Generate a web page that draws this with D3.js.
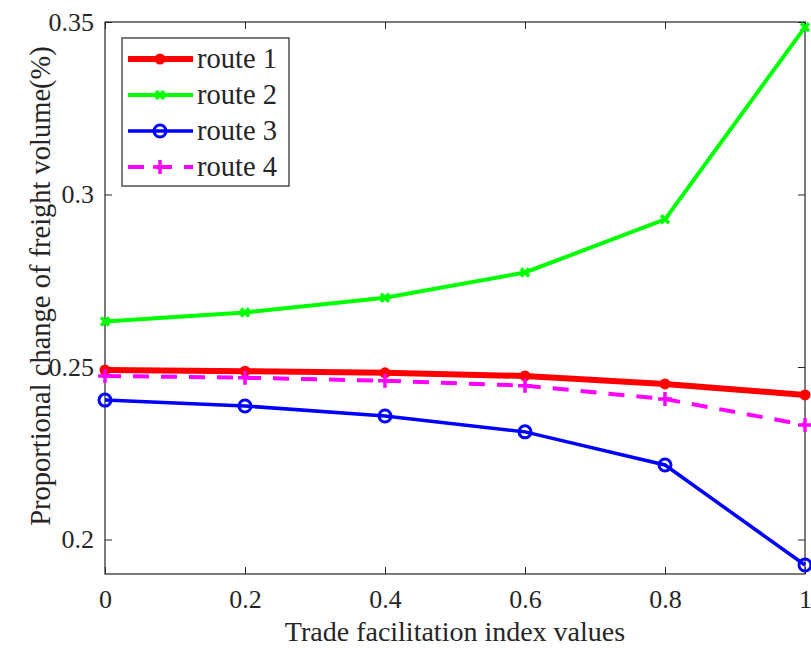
<!DOCTYPE html>
<html>
<head>
<meta charset="utf-8">
<script src="https://cdn.jsdelivr.net/npm/d3@7"></script>
<style>
  body { margin: 0; background: #fff; }
  text { font-family: "Liberation Serif", "Times New Roman", serif; fill: #262626; }
</style>
</head>
<body>
<div id="chart"></div>
<script>
// data
const trade_index = [0, 0.2, 0.4, 0.6, 0.8, 1];
const route_1 = [0.2491, 0.2488, 0.2483, 0.2474, 0.2451, 0.2419];
const route_2 = [0.2632, 0.2658, 0.2701, 0.2774, 0.2928, 0.3485];
const route_3 = [0.2404, 0.2387, 0.2358, 0.2312, 0.2216, 0.1926];
const route_4 = [0.2474, 0.2469, 0.2460, 0.2446, 0.2407, 0.2332];
const route_names = ["route 1", "route 2", "route 3", "route 4"];
const x_ticks = [0, 0.2, 0.4, 0.6, 0.8, 1];
const y_ticks = [0.2, 0.25, 0.3, 0.35];

const width = 811;
const height = 648;
const margin = { top: 22, right: 6, bottom: 74, left: 105 };
const plot_w = width - margin.left - margin.right;
const plot_h = height - margin.top - margin.bottom;
const axis_color = "#262626";

const svg = d3.select("#chart")
    .append("svg")
    .attr("width", width)
    .attr("height", height);

const g = svg.append("g")
    .attr("transform", "translate(" + margin.left + "," + margin.top + ")");

const x = d3.scaleLinear().domain([0, 1]).range([0, plot_w]);
const y = d3.scaleLinear().domain([0.19, 0.35]).range([plot_h, 0]);

// axes with inward ticks (box on, like matlab)
const fmt = d => d3.format("")(+d.toFixed(2));

const xAxis = g.append("g")
    .attr("transform", "translate(0," + plot_h + ")")
    .call(d3.axisBottom(x).tickValues(x_ticks).tickFormat(fmt).tickSizeInner(-7).tickSizeOuter(0).tickPadding(16));
const xTop = g.append("g")
    .call(d3.axisTop(x).tickValues(x_ticks).tickFormat("").tickSizeInner(-7).tickSizeOuter(0));
const yAxis = g.append("g")
    .call(d3.axisLeft(y).tickValues(y_ticks).tickFormat(fmt).tickSizeInner(-7).tickSizeOuter(0).tickPadding(11));
const yRight = g.append("g")
    .attr("transform", "translate(" + plot_w + ",0)")
    .call(d3.axisRight(y).tickValues(y_ticks).tickFormat("").tickSizeInner(-7).tickSizeOuter(0));

[xAxis, xTop, yAxis, yRight].forEach(a => {
    a.select(".domain").remove();
    a.selectAll(".tick line").attr("stroke", axis_color).attr("stroke-width", 1);
    a.selectAll(".tick text")
        .attr("font-size", "26px")
        .attr("fill", axis_color);
});

g.append("rect")
    .attr("x", 0).attr("y", 0)
    .attr("width", plot_w).attr("height", plot_h)
    .attr("fill", "none")
    .attr("stroke", axis_color)
    .attr("stroke-width", 1.2);

// axis titles
svg.append("text")
    .attr("x", margin.left + plot_w / 2)
    .attr("y", 641)
    .attr("text-anchor", "middle")
    .attr("font-size", "28px")
    .text("Trade facilitation index values");

svg.append("text")
    .attr("transform", "translate(50," + (margin.top + 264) + ") rotate(-90)")
    .attr("text-anchor", "middle")
    .attr("font-size", "28.5px")
    .text("Proportional change of freight volume(%)");

// series
const series = [
    { name: route_names[0], values: route_1, color: "#ff0000", width: 6, dash: null, marker: "dot" },
    { name: route_names[1], values: route_2, color: "#00ff00", width: 4, dash: null, marker: "x" },
    { name: route_names[2], values: route_3, color: "#0000ff", width: 3.5, dash: null, marker: "circle" },
    { name: route_names[3], values: route_4, color: "#ff00ff", width: 4, dash: "16,12", marker: "plus" }
];

const line = d3.line()
    .x((d, i) => x(trade_index[i]))
    .y(d => y(d));

function drawMarker(sel, type, color, cx, cy) {
    if (type === "dot") {
        sel.append("circle").attr("cx", cx).attr("cy", cy).attr("r", 5.5).attr("fill", color);
    } else if (type === "circle") {
        sel.append("circle").attr("cx", cx).attr("cy", cy).attr("r", 6)
            .attr("fill", "none").attr("stroke", color).attr("stroke-width", 3);
    } else if (type === "x") {
        const s = 4;
        sel.append("path")
            .attr("d", `M${cx - s},${cy - s}L${cx + s},${cy + s}M${cx - s},${cy + s}L${cx + s},${cy - s}`)
            .attr("stroke", color).attr("stroke-width", 3.5).attr("fill", "none");
    } else if (type === "plus") {
        const s = 7;
        sel.append("path")
            .attr("d", `M${cx - s},${cy}L${cx + s},${cy}M${cx},${cy - s}L${cx},${cy + s}`)
            .attr("stroke", color).attr("stroke-width", 3.5).attr("fill", "none");
    }
}

series.forEach(s => {
    g.append("path")
        .datum(s.values)
        .attr("fill", "none")
        .attr("stroke", s.color)
        .attr("stroke-width", s.width)
        .attr("stroke-dasharray", s.dash)
        .attr("d", line);
    const mg = g.append("g");
    s.values.forEach((v, i) => drawMarker(mg, s.marker, s.color, x(trade_index[i]), y(v)));
});

// legend
const legend = svg.append("g");
legend.append("rect")
    .attr("x", 122).attr("y", 38)
    .attr("width", 167).attr("height", 148)
    .attr("fill", "#fff")
    .attr("stroke", axis_color)
    .attr("stroke-width", 1.2);

series.forEach((s, i) => {
    const ly = 59 + i * 36;
    legend.append("line")
        .attr("x1", 128).attr("x2", 193)
        .attr("y1", ly).attr("y2", ly)
        .attr("stroke", s.color)
        .attr("stroke-width", s.width)
        .attr("stroke-dasharray", s.dash);
    drawMarker(legend, s.marker, s.color, 160, ly);
    legend.append("text")
        .attr("x", 197)
        .attr("y", ly + 9)
        .attr("font-size", "28.5px")
        .text(s.name);
});
</script>
</body>
</html>
